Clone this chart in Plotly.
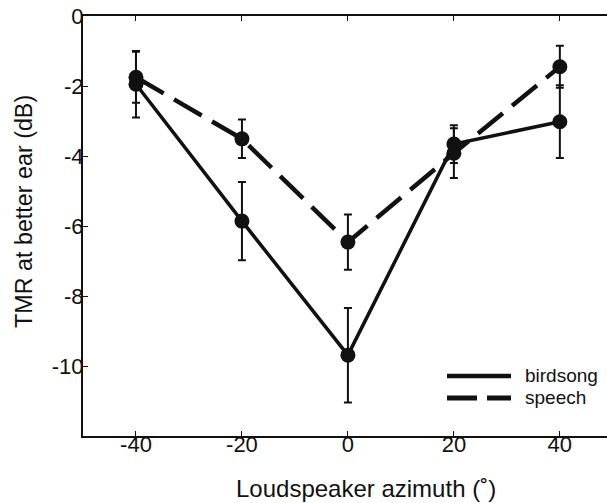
import plotly.graph_objects as go

azimuth = [-40, -20, 0, 20, 40]
birdsong = [-1.95, -5.86, -9.69, -3.66, -3.02]
birdsong_err = [0.95, 1.12, 1.35, 0.54, 1.04]
speech = [-1.75, -3.51, -6.46, -3.92, -1.45]
speech_err = [0.73, 0.55, 0.79, 0.71, 0.60]

x_ticks = [-40, -20, 0, 20, 40]
x_ticklabels = ["-40", "-20", "0", "20", "40"]
y_ticks = [0, -2, -4, -6, -8, -10]
y_ticklabels = ["0", "-2", "-4", "-6", "-8", "-10"]

INK = "#111111"
FONT = "Liberation Sans, Arial, Helvetica, sans-serif"

fig = go.Figure()
fig.add_trace(go.Scatter(
    x=azimuth, y=birdsong, mode="lines+markers", name="birdsong",
    line=dict(color=INK, width=3.5),
    marker=dict(color=INK, size=15),
    error_y=dict(type="data", array=birdsong_err, visible=True,
                 color=INK, thickness=2, width=4),
    showlegend=False,
))
fig.add_trace(go.Scatter(
    x=azimuth, y=speech, mode="lines+markers", name="speech",
    line=dict(color=INK, width=4.5, dash="32px,12px"),
    marker=dict(color=INK, size=15),
    error_y=dict(type="data", array=speech_err, visible=True,
                 color=INK, thickness=2, width=4),
    showlegend=False,
))

# manual legend (paper coords)
fig.add_shape(type="line", xref="paper", yref="paper",
              x0=0.6947, x1=0.8168, y0=0.1429, y1=0.1429,
              line=dict(color=INK, width=4.5))
fig.add_shape(type="line", xref="paper", yref="paper",
              x0=0.6947, x1=0.8168, y0=0.0905, y1=0.0905,
              line=dict(color=INK, width=5, dash="30px,10px"))
fig.add_annotation(text="birdsong", xref="paper", yref="paper",
                   x=0.8397, y=0.1429, xanchor="left", yanchor="middle",
                   showarrow=False, font=dict(size=19, color=INK, family=FONT))
fig.add_annotation(text="speech", xref="paper", yref="paper",
                   x=0.8397, y=0.0905, xanchor="left", yanchor="middle",
                   showarrow=False, font=dict(size=19, color=INK, family=FONT))

# axis titles
fig.add_annotation(text="Loudspeaker azimuth (˚)", xref="paper", yref="paper",
                   x=0.541, y=-0.126, xanchor="center", yanchor="middle",
                   showarrow=False, font=dict(size=24, color=INK, family=FONT))
fig.add_annotation(text="TMR at better ear (dB)", xref="paper", yref="paper",
                   x=-0.1126, y=0.536, xanchor="center", yanchor="middle",
                   textangle=-90,
                   showarrow=False, font=dict(size=23.3, color=INK, family=FONT))

fig.update_layout(
    width=607, height=503,
    margin=dict(l=83, r=0, t=16, b=67),
    paper_bgcolor="white", plot_bgcolor="white",
    font=dict(family=FONT, color=INK),
    xaxis=dict(
        range=[-50, 48.9], tickvals=x_ticks, ticktext=x_ticklabels,
        ticks="inside", ticklen=5, tickwidth=1, tickcolor=INK,
        showline=True, linewidth=2, linecolor=INK, mirror="ticks",
        showgrid=False, zeroline=False,
        tickfont=dict(size=22, color=INK),
        ticklabelstandoff=-12,
    ),
    yaxis=dict(
        range=[-12, 0], tickvals=y_ticks, ticktext=y_ticklabels,
        ticks="inside", ticklen=5, tickwidth=1, tickcolor=INK,
        showline=True, linewidth=2, linecolor=INK,
        showgrid=False, zeroline=False,
        tickfont=dict(size=22, color=INK),
        ticklabelstandoff=-7,
    ),
)

fig.write_html("out.html", config={"displayModeBar": False},
               post_script="document.body.style.margin='0';document.body.style.overflow='hidden';")
